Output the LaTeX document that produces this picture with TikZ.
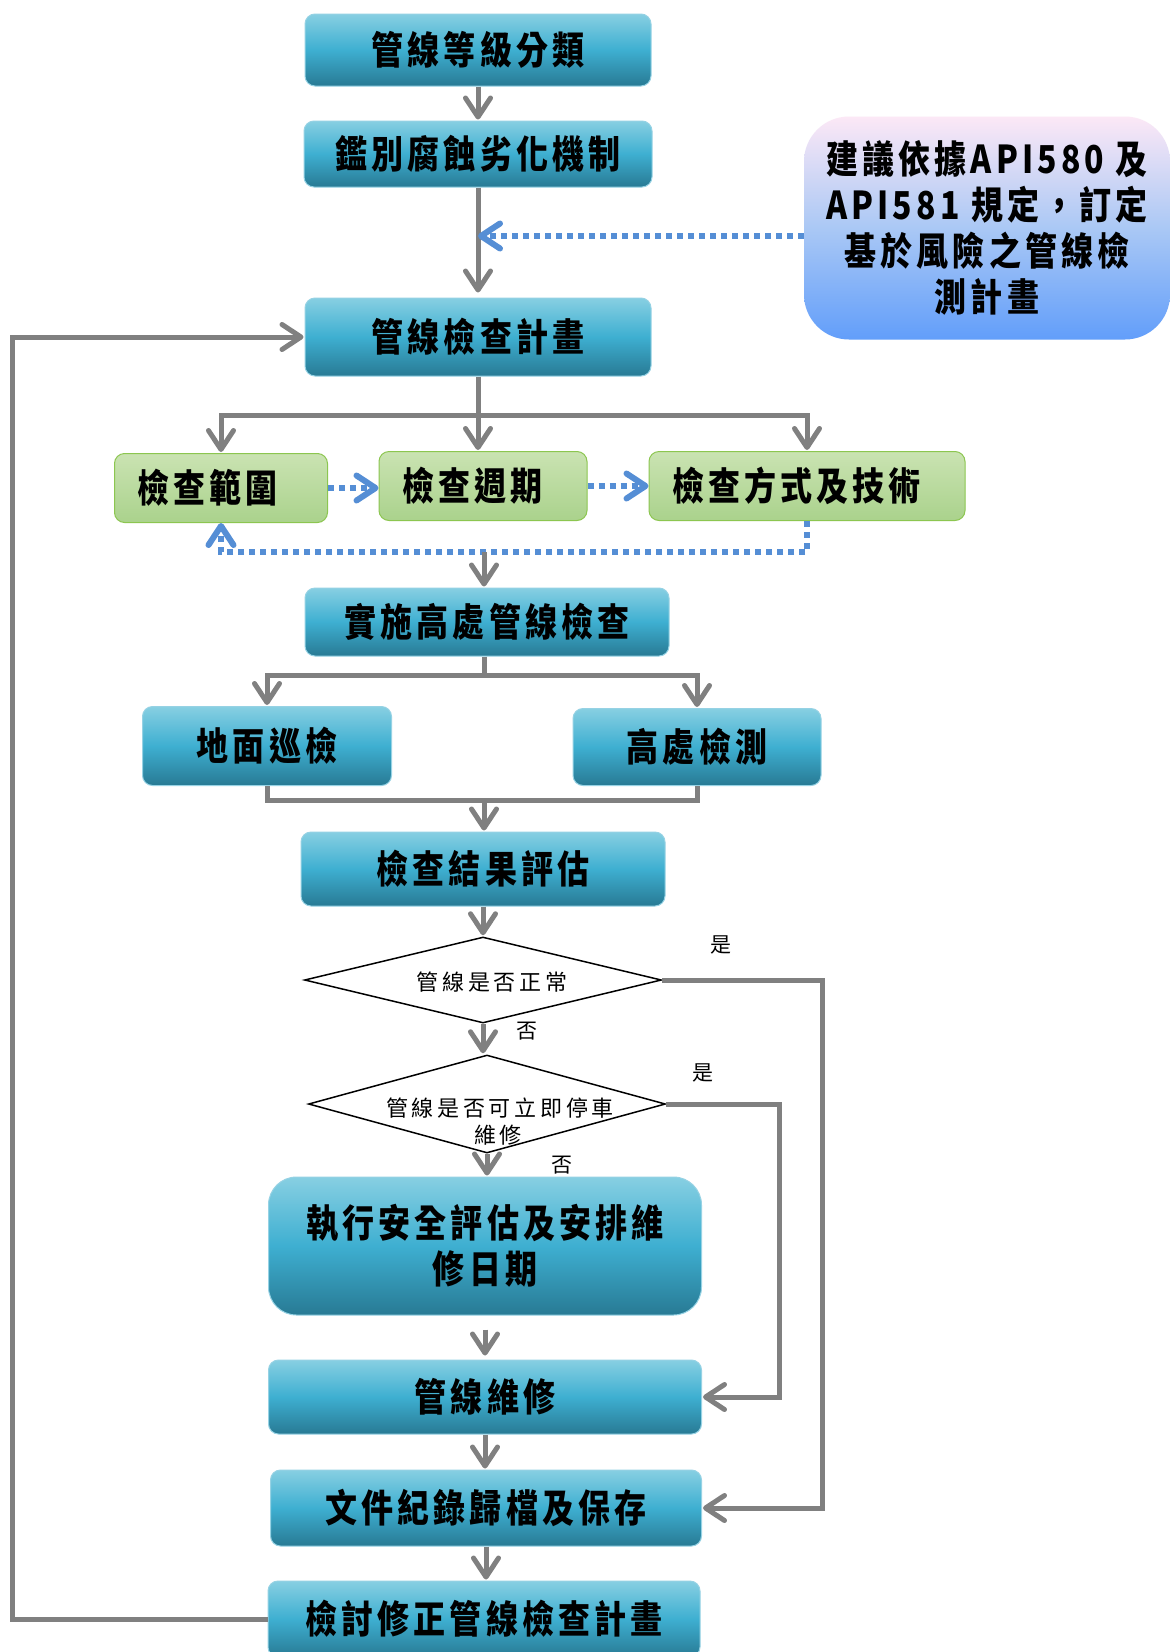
\documentclass[tikz,border=0pt]{standalone}
\usepackage{fontspec}
\usepackage{graphicx}
\usetikzlibrary{arrows.meta,shapes.geometric,calc}
\newfontfamily\cjkb{Noto Sans CJK TC}[LetterSpace=13]
\newfontfamily\cjkr{Noto Sans CJK TC}[LetterSpace=17]
\newcommand{\tl}[1]{\scalebox{1}[1.2]{#1}}
\definecolor{tealT}{RGB}{135,207,226}
\definecolor{tealM}{RGB}{62,175,209}
\definecolor{tealB}{RGB}{40,122,148}
\definecolor{tealE}{RGB}{150,210,228}
\definecolor{grnT}{RGB}{202,227,178}
\definecolor{grnB}{RGB}{170,210,140}
\definecolor{grnE}{RGB}{140,198,80}
\definecolor{pinkT}{RGB}{252,232,246}
\definecolor{bluM}{RGB}{170,200,245}
\definecolor{bluB}{RGB}{98,158,250}
\definecolor{lineg}{RGB}{128,128,128}
\definecolor{dotb}{RGB}{85,142,213}
\begin{document}
\begin{tikzpicture}[x=1pt,y=-1pt,
  tbox/.style={rectangle, rounded corners=10pt, draw=tealE, line width=1pt,
    top color=tealT, bottom color=tealB, middle color=tealM,
    font=\cjkb\bfseries\fontsize{32}{46}\selectfont, inner sep=0pt, align=center},
  gbox/.style={rectangle, rounded corners=10pt, draw=grnE, line width=1pt,
    top color=grnT, bottom color=grnB,
    font=\cjkb\bfseries\fontsize{32}{46}\selectfont, inner ysep=0pt, inner xsep=23pt, align=left},
  ibox/.style={rectangle, rounded corners=45pt, draw=none,
    top color=pinkT, bottom color=bluB, middle color=bluM,
    font=\cjkb\bfseries\fontsize{32}{46}\selectfont, inner sep=0pt, align=center},
  dbox/.style={diamond, draw=black, line width=1.5pt, fill=white, inner sep=0pt},
  dtext/.style={inner sep=0pt, font=\cjkr\fontsize{22}{28}\selectfont, align=center},
  lbl/.style={inner sep=0pt, font=\cjkr\fontsize{21}{26}\selectfont},
  gline/.style={draw=lineg, line width=5pt},
  garrow/.style={draw=lineg, line width=5pt, -{Straight Barb[length=19pt,width=25pt,round]}, shorten >=1pt},
  barrow/.style={draw=dotb, line width=6pt, dash pattern=on 6pt off 5pt,
    -{Straight Barb[length=19pt,width=25pt,round]}}
]
\useasboundingbox (0,0) rectangle (1170,1652);
\fill[white] (0,0) rectangle (1170,1652);

% main nodes
\node[tbox, minimum width=346pt, minimum height=72pt] (n1) at (478,50) {\tl{管線等級分類}};
\node[tbox, minimum width=348pt, minimum height=66pt] (n2) at (478,154) {\tl{鑑別腐蝕劣化機制}};
\node[ibox, minimum width=366pt, minimum height=223pt] (nb) at (987,228)
  {\tl{建議依據API580 及}\\ \tl{API581 規定，訂定}\\ \tl{基於風險之管線檢}\\ \tl{測計畫}};
\node[tbox, minimum width=346pt, minimum height=78pt] (n3) at (478,337) {\tl{管線檢查計畫}};
\node[gbox, text width=167pt, minimum height=69pt] (g1) at (221,488) {\tl{檢查範圍}};
\node[gbox, text width=162pt, minimum height=69pt] (g2) at (483,486) {\tl{檢查週期}};
\node[gbox, text width=270pt, minimum height=69pt] (g3) at (807,486) {\tl{檢查方式及技術}};
\node[tbox, minimum width=364pt, minimum height=68pt] (n4) at (487,622) {\tl{實施高處管線檢查}};
\node[tbox, minimum width=249pt, minimum height=79pt] (n5) at (267,746) {\tl{地面巡檢}};
\node[tbox, minimum width=248pt, minimum height=77pt] (n6) at (697,747) {\tl{高處檢測}};
\node[tbox, minimum width=364pt, minimum height=74pt] (n7) at (483,869) {\tl{檢查結果評估}};
\node[dbox, minimum width=357pt, minimum height=86pt] (d1) at (483,980) {};
\node[dtext] (t1) at (492,982) {管線是否正常};
\node[dbox, minimum width=357pt, minimum height=98pt] (d2) at (487,1104) {};
\node[dtext] (t2) at (500,1108) {管線是否可立即停車};
\node[dtext] (t3) at (498,1135) {維修};
\node[tbox, rounded corners=28pt, minimum width=433pt, minimum height=138pt] (n8) at (485,1246)
  {\tl{執行安全評估及安排維}\\ \tl{修日期}};
\node[tbox, minimum width=433pt, minimum height=74pt] (n9) at (485,1397) {\tl{管線維修}};
\node[tbox, minimum width=431pt, minimum height=76pt] (n10) at (486,1508) {\tl{文件紀錄歸檔及保存}};
\node[tbox, minimum width=432pt, minimum height=76pt] (n11) at (484,1619) {\tl{檢討修正管線檢查計畫}};

% labels
\node[lbl] (y1) at (721,945) {是};
\node[lbl] (no1) at (527,1031) {否};
\node[lbl] (y2) at (703,1073) {是};
\node[lbl] (no2) at (562,1165) {否};

% connectors
\draw[garrow] (n1) -- (n2);
\draw[garrow, shorten >=5pt] (n2) -- (n3);
\coordinate (j1) at (478,236);
\draw[barrow] (nb.west |- j1) -- (j1);

\coordinate (s1) at (478,415);
\draw[gline] (n3.south) -- (s1);
\draw[garrow] (s1) -| (g1.north);
\draw[garrow] (s1) -| (g3.north);
\draw[garrow] (s1) -- (s1 |- g2.north);

\draw[barrow] (g1.east) -- (g1.east -| g2.west);
\draw[barrow] (g2.east) -- (g2.east -| g3.west);
\coordinate (dl) at (484,552);
\draw[barrow] (g3.south) |- (dl) -| (g1.south);
\draw[garrow] (dl) -- (dl |- n4.north);

\coordinate (s2) at (484,675);
\draw[gline] (n4.south -| s2) -- (s2);
\draw[garrow] (s2) -| (n5.north);
\draw[garrow] (s2) -| (n6.north);
\coordinate (s3) at (484,800);
\draw[gline] (n5.south) |- (s3) -| (n6.south);
\draw[garrow] (s3) -- (s3 |- n7.north);

\draw[garrow] (n7.south) -- (n7.south |- d1.north);
\draw[garrow] (d1.south) -- (d1.south |- d2.north);
\draw[garrow] (d2.south) -- (d2.south |- n8.north);
\draw[garrow, shorten <=14pt, shorten >=4pt] (n8.south) -- (n8.south |- n9.north);
\draw[garrow] (n9.south) -- (n9.south |- n10.north);
\draw[garrow] (n10.south) -- (n10.south |- n11.north);

\coordinate (r1) at (822,0);
\draw[garrow] (d1.east) -- (d1.east -| r1) |- (n10.east);
\coordinate (r2) at (779,0);
\draw[garrow] (d2.east) -- (d2.east -| r2) |- (n9.east);

\coordinate (l1) at (12,0);
\draw[garrow] (n11.west) -- (n11.west -| l1) |- (n3.west);
\end{tikzpicture}
\end{document}
